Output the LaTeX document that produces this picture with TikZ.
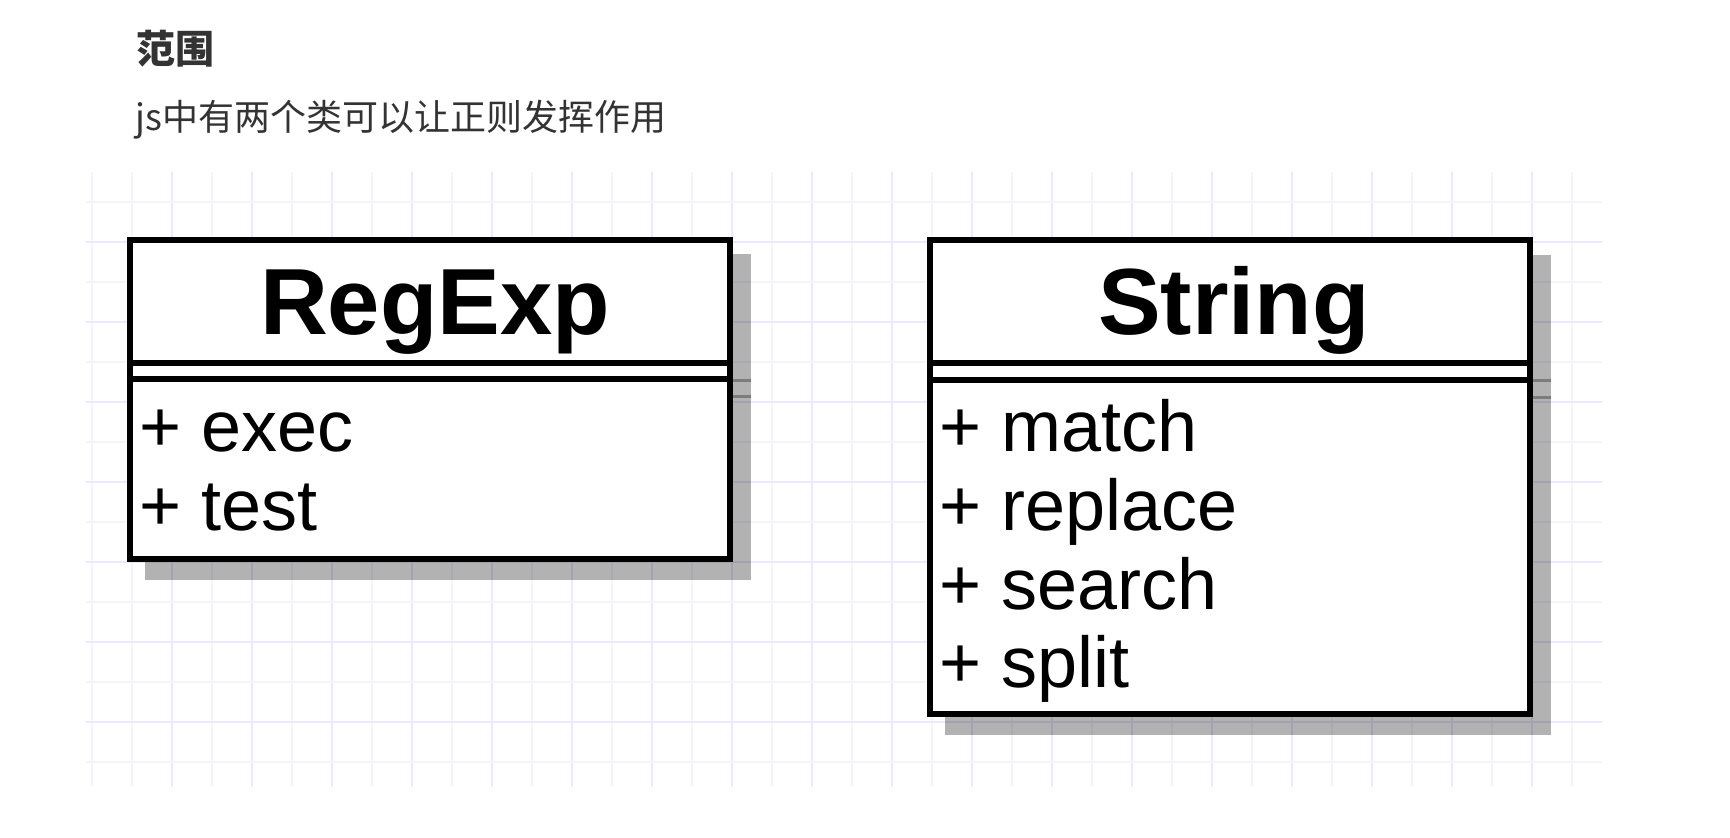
\documentclass[tikz,border=0pt]{standalone}
\usepackage{fontspec}
\setmainfont{Liberation Sans}
\newfontfamily\headfont{Liberation Sans}
\newfontfamily\cjk{Noto Sans CJK SC}
\definecolor{gridlight}{RGB}{244,244,255}
\definecolor{griddark}{RGB}{234,234,253}
\definecolor{txtgray}{RGB}{51,51,51}
\begin{document}
\begin{tikzpicture}[x=0.5pt,y=-0.5pt,
  gridminor/.style={gridlight,line width=1.1pt},
  gridmajor/.style={griddark,line width=1.1pt},
  umlbox/.style={draw=black,fill=white,line width=3pt},
  umlsep/.style={black,line width=3pt},
  shadowbox/.style={fill=black,fill opacity=0.3},
  shadowsep/.style={black,opacity=0.3,line width=1.5pt},
  headtext/.style={anchor=base,inner sep=0pt,font=\headfont\bfseries\fontsize{47pt}{54pt}\selectfont},
  membertext/.style={anchor=base west,inner sep=0pt,font=\fontsize{36pt}{40pt}\selectfont},
  cjktext/.style={anchor=base west,inner sep=0pt,text=txtgray,font=\cjk\fontsize{18pt}{22pt}\selectfont}]
\useasboundingbox (0,0) rectangle (1730,838);
\fill[white] (0,0) rectangle (1730,838);
% grid
\foreach \x in {92,132,...,1572}{\draw[gridminor] (\x,172) -- (\x,787);}
\foreach \x in {172,252,...,1532}{\draw[gridmajor] (\x,172) -- (\x,787);}
\foreach \y in {202,242,...,762}{\draw[gridminor] (86,\y) -- (1602,\y);}
\foreach \y in {242,322,...,722}{\draw[gridmajor] (86,\y) -- (1602,\y);}
% shadows
\fill[shadowbox] (145,254) rectangle (751,580);
\draw[shadowsep] (733,381) -- (751,381);
\draw[shadowsep] (733,397) -- (751,397);
\fill[shadowbox] (945,255) rectangle (1551,735);
\draw[shadowsep] (1533,381) -- (1551,381);
\draw[shadowsep] (1533,398) -- (1551,398);
% RegExp box
\draw[umlbox] (130,240) rectangle (730,559);
\draw[umlsep] (130,363) -- (730,363);
\draw[umlsep] (130,379) -- (730,379);
% String box
\draw[umlbox] (930,240) rectangle (1530,714);
\draw[umlsep] (930,363) -- (1530,363);
\draw[umlsep] (930,380) -- (1530,380);
% texts
\node[headtext] (regexpname) at (435,335) {RegExp};
\node[membertext] (exec) at (139,452) {+ exec};
\node[membertext] (test) at (139,531) {+ test};
\node[headtext] (stringname) at (1234,335) {String};
\node[membertext] (match) at (939,452) {+ match};
\node[membertext] (replace) at (939,531) {+ replace};
\node[membertext] (search) at (939,610) {+ search};
\node[membertext] (split) at (939,688) {+ split};
\node[cjktext,font=\cjk\fontsize{19.5pt}{24pt}\selectfont] (title) at (136,64) {\bfseries 范围};
\node[cjktext] (intro) at (135,131) {js中有两个类可以让正则发挥作用};
\end{tikzpicture}
\end{document}
